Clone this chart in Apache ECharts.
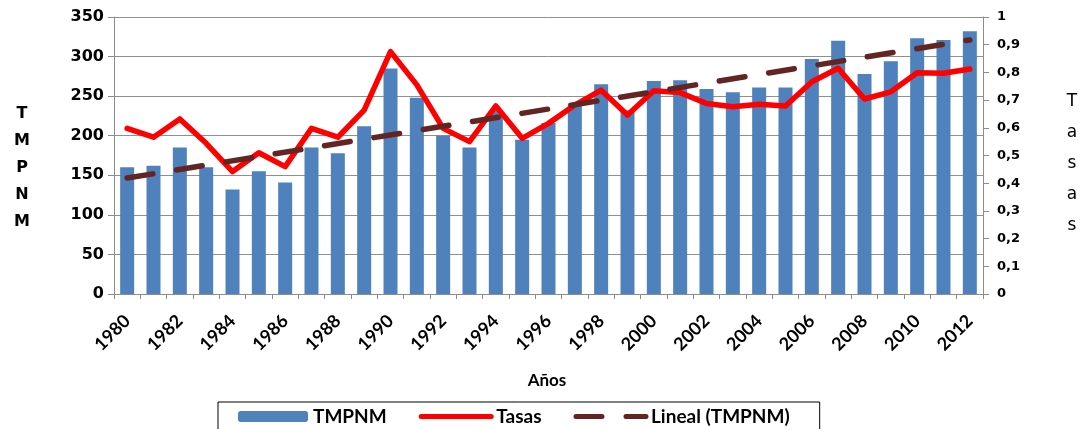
<!DOCTYPE html>
<html>
<head>
<meta charset="utf-8">
<script src="https://cdn.jsdelivr.net/npm/echarts@6/dist/echarts.min.js"></script>
<style>
html,body{margin:0;padding:0;background:#fff;}
#chart{width:1080px;height:429px;}
</style>
</head>
<body>
<div id="chart"></div>
<script>
var years = [];
for (var y = 1980; y <= 2012; y++) years.push(String(y));

var tmpnm = [160,162,185,160,132,155,141,185,178,212,285,248,200,185,232,195,216,241,265,232,269,270,259,255,261,261,297,320,278,294,323,321,332];

var tasas = [0.598,0.566,0.632,0.544,0.442,0.51,0.46,0.598,0.566,0.664,0.875,0.755,0.598,0.55,0.679,0.562,0.616,0.682,0.736,0.646,0.734,0.727,0.688,0.676,0.685,0.679,0.766,0.815,0.704,0.73,0.799,0.797,0.812];

// trendline endpoints (1980 and 2012)
var trendStart = 146.5;
var trendEnd = 321;
var trend = years.map(function (d, i) {
  return i === 0 ? trendStart : (i === years.length - 1 ? trendEnd : null);
});

var leftTicks = { min: 0, max: 350, interval: 50 };
var rightTicks = { min: 0, max: 1, interval: 0.1 };

var chart = echarts.init(document.getElementById('chart'));
var axisGrey = '#8c8c8c';
chart.setOption({
  animation: false,
  grid: { left: 114, right: 97, top: 17, bottom: 135 },
  xAxis: {
    type: 'category',
    data: years,
    boundaryGap: true,
    axisLine: { lineStyle: { color: axisGrey, width: 1 } },
    axisTick: { show: true, interval: 0, length: 5, lineStyle: { color: axisGrey } },
    axisLabel: {
      interval: 1, rotate: 45, margin: 24,
      fontFamily: 'Lato', fontWeight: 'bold', fontSize: 18, color: '#000'
    }
  },
  yAxis: [{
    type: 'value', min: leftTicks.min, max: leftTicks.max, interval: leftTicks.interval,
    axisLine: { show: true, lineStyle: { color: axisGrey } },
    axisTick: { show: true, length: 6, lineStyle: { color: axisGrey } },
    splitLine: { show: true, lineStyle: { color: '#8f8f8f', width: 1 } },
    axisLabel: { fontFamily: 'DejaVu Sans', fontWeight: 'bold', fontSize: 16, color: '#000', margin: 10 }
  }, {
    type: 'value', position: 'right', min: rightTicks.min, max: rightTicks.max, interval: rightTicks.interval,
    axisLine: { show: true, lineStyle: { color: axisGrey } },
    axisTick: { show: true, length: 6, lineStyle: { color: axisGrey } },
    splitLine: { show: false },
    axisLabel: {
      fontFamily: 'DejaVu Sans', fontWeight: 'bold', fontSize: 13, color: '#000', margin: 14,
      formatter: function (v) {
        if (Math.abs(v) < 1e-9) return '0';
        if (Math.abs(v - 1) < 1e-9) return '1';
        return v.toFixed(1).replace('.', ',');
      }
    }
  }],
  legend: {
    left: 218, top: 402,
    padding: [5, 30, 12, 20],
    itemGap: 32,
    itemWidth: 70, itemHeight: 11,
    borderColor: '#000', borderWidth: 1,
    textStyle: { fontFamily: 'Lato', fontWeight: 'bold', fontSize: 19, color: '#000' },
    data: [
      { name: 'TMPNM' },
      { name: 'Tasas', itemStyle: { opacity: 0 }, lineStyle: { width: 5 } },
      { name: 'Lineal (TMPNM)', itemStyle: { opacity: 0 }, lineStyle: { width: 5 } }
    ]
  },
  graphic: [
    { type: 'text', x: 22, y: 100, style: {
        text: 'T\nM\nP\nN\nM', align: 'center', verticalAlign: 'top', lineHeight: 27,
        font: 'bold 16px "DejaVu Sans"', fill: '#000' } },
    { type: 'text', x: 1072, y: 86, style: {
        text: 'T\na\ns\na\ns', align: 'center', verticalAlign: 'top', lineHeight: 31,
        font: '17px "DejaVu Sans"', fill: '#000' } },
    { type: 'text', x: 547, y: 381, style: {
        text: 'Años', align: 'center', verticalAlign: 'middle',
        font: 'bold 17px Lato', fill: '#000' } }
  ],
  series: [{
    name: 'TMPNM', type: 'bar', data: tmpnm, yAxisIndex: 0,
    barWidth: 14,
    itemStyle: { color: '#4F81BD' }
  }, {
    name: 'Tasas', type: 'line', data: tasas, yAxisIndex: 1,
    symbol: 'none', z: 3,
    lineStyle: { color: '#FF0000', width: 5.5, join: 'round', cap: 'round' },
    itemStyle: { color: '#FF0000' }
  }, {
    name: 'Lineal (TMPNM)', type: 'line', data: trend, yAxisIndex: 0,
    connectNulls: true, symbol: 'none', z: 4,
    lineStyle: { color: '#632523', width: 5.5, type: [26, 24], cap: 'round' },
    itemStyle: { color: '#632523' }
  }]
});
</script>
</body>
</html>
